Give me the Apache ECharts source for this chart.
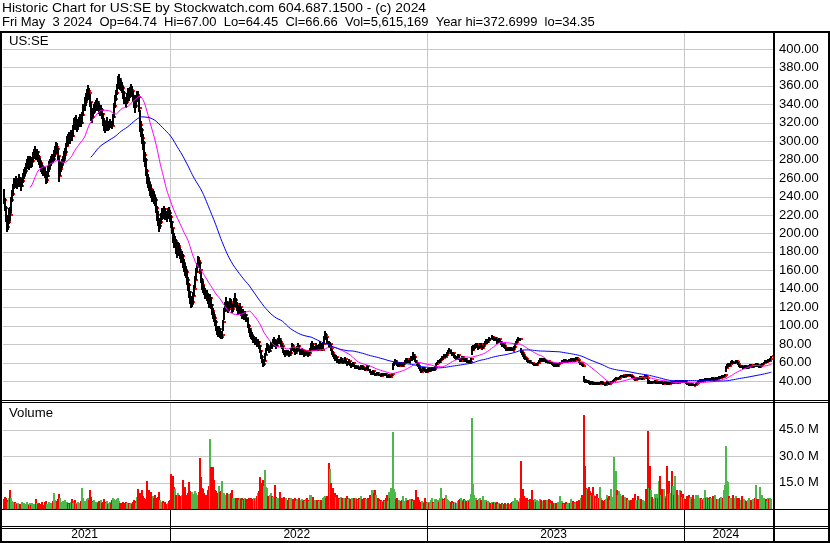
<!DOCTYPE html>
<html><head><meta charset="utf-8">
<script src="https://cdn.jsdelivr.net/npm/echarts@6.0.0/dist/echarts.min.js"></script>
<style>html,body{margin:0;padding:0;background:#fff}#c{width:830px;height:543px}</style>
</head><body><div id="c"></div>
<script>
const titleLine1 = 'Historic Chart for US:SE by Stockwatch.com 604.687.1500 - (c) 2024';
const titleLine2 = 'Fri May  3 2024  Op=64.74  Hi=67.00  Lo=64.45  Cl=66.66  Vol=5,615,169  Year hi=372.6999  lo=34.35';
const symbolLabel = 'US:SE';
const volumeLabel = 'Volume';
const yearLabels = ['2021', '2022', '2023', '2024'];
const yearCounts = [163, 251, 250, 86];
const priceTicks = [40,60,80,100,120,140,160,180,200,220,240,260,280,300,320,340,360,380,400];
const volumeTicks = [15, 30, 45];
const maPeriods = [27, 86];

const closes = [236,228,216,207,212,222,220,236,243,250,
255,254,258,252,256,260,254,251,257,262,
266,268,272,276,279,275,280,277,279,284,
288,290,286,288,283,279,276,273,270,268,
266,258,262,270,275,276,280,282,281,286,
290,294,292,284,262,270,274,277,280,285,
288,295,302,300,305,303,308,306,314,320,
318,322,316,318,322,326,320,328,336,342,
348,352,355,352,342,330,326,332,336,338,
340,342,338,336,332,334,330,322,316,314,
318,320,316,318,320,318,317,326,338,346,
352,358,366,368,362,360,358,352,346,342,
348,352,350,354,356,354,348,342,338,346,
350,348,336,318,312,304,298,285,280,268,
260,256,252,248,244,240,242,238,236,228,
220,214,208,212,218,224,222,226,220,218,
224,222,218,212,206,196,190,192,184,180,
186,182,178,174,176,168,164,160,158,150,
144,136,130,124,126,132,140,150,158,164,
170,168,160,150,144,140,138,135,132,128,
124,130,122,116,112,108,104,98,94,92,
96,90,88,90,104,116,122,126,120,118,
122,126,124,118,120,126,128,124,120,116,
118,120,114,112,114,110,112,108,100,96,
92,90,88,84,86,82,84,80,82,78,
72,66,62,58,62,68,74,78,76,72,
76,80,78,82,84,80,78,82,84,86,
82,80,78,72,70,68,72,70,68,70,
74,78,76,74,70,72,76,78,74,70,
72,74,70,68,70,72,70,68,70,74,
78,80,76,74,76,78,76,74,78,80,
76,74,80,86,90,88,82,78,80,76,
70,68,66,64,66,62,61,60,62,64,
62,60,62,64,60,58,60,62,58,56,
58,60,56,55,56,54,55,53,54,56,
55,54,53,52,54,56,52,50,48,49,
51,48,46,47,49,48,46,47,45,48,
47,46,48,46,44,45,47,44,46,48,
58,60,62,60,58,56,58,60,58,56,
58,60,62,64,62,60,64,66,64,68,
66,62,60,58,56,54,52,50,52,54,
52,51,50,52,53,51,52,53,54,52,
53,55,58,60,62,61,63,64,66,65,
68,66,68,70,72,74,70,68,70,66,
66,64,66,68,64,62,64,66,64,62,
64,62,60,62,60,61,64,74,76,77,
78,80,78,76,78,80,78,76,78,80,
82,84,82,84,86,85,88,86,85,87,
84,82,84,86,82,80,78,80,78,76,
74,76,75,74,76,74,73,75,77,80,
82,84,86,85,86,72,70,68,66,65,
64,62,60,62,60,59,58,57,58,57,
59,60,62,64,63,62,64,63,62,60,
61,62,60,59,60,58,57,56,58,57,
56,58,59,60,60.5,62,61,63,62,61,
62,62.5,63,62,64,63,62,64,65,64,
63,60,58,59,57,56,41,40,39,40,
39,38,37,39,38,37,38,37,38,37,
38,37,38,39,38,37,36.5,36,38,39,
38,37,38,39,40,41.5,42,43,42,42.5,
43,44,45,46,45,44,46,47,45,46,
47,46,45,44,43,42,41,42,43,42,
43,44,43,42,43,44,45,44,43,38,
39,38,39,38,39,40,38,39,38,39,
38,39,38,37,38,39,38,37,38,37,
38,39,38,39,38,39,40,39,38,39,
40,39,40,39,40,39,38,37,36.5,36,
36.5,37,36,35,36,37,38,39,40,41,
40,41,40,41,42,41,42,41,42,41,
42,43,42,41,42,43,42,43,44,43,
44,45,44,45,47,54,56,57,56,58,
60,61,59,60,62,61,58,56,55,56,
55,54,55,56,55,54,55,56,57,56,
55,56,57,56,58,57,56,55,56,57,
58,59,60,62,61,62,63,62,64,66.66];

const highs = [248,238,230,218,220,228,229,240,247,254,
260,259,262,259,260,264,261,256,260,266,
270,272,276,281,284,280,284,282,283,288,
292,295,292,292,289,285,282,279,276,273,
272,268,266,273,279,281,284,286,286,290,
295,299,298,293,284,274,278,281,284,289,
293,298,306,308,310,309,312,312,318,325,
326,328,324,322,326,330,328,332,340,348,
352,357,361,358,351,342,333,336,340,343,
345,347,344,341,338,339,336,331,325,320,
322,326,322,322,324,322,321,330,341,350,
356,362,371,372.7,369,366,364,360,354,348,
352,358,356,359,362,360,355,350,344,350,
355,354,348,334,322,314,308,300,288,282,
270,264,260,256,252,247,248,246,242,238,
230,224,217,216,222,228,228,230,228,224,
228,229,225,220,214,206,200,197,194,188,
191,190,185,181,181,178,172,168,165,160,
153,146,138,132,131,136,144,154,162,168,
175,174,170,160,152,148,144,141,139,135,
130,134,131,124,119,115,111,106,100,98,
100,98,93,94,106,119,126,131,127,122,
126,130,129,125,123,130,135,130,126,122,
122,125,120,116,118,115,116,113,108,102,
98,95,93,90,89,88,88,85,85,83,
79,74,68,63,64,70,76,81,80,77,
78,82,82,85,88,85,81,84,87,90,
87,84,81,78,74,71,74,74,71,72,
76,81,80,77,75,74,78,81,79,75,
74,76,75,71,72,74,73,71,72,76,
81,83,81,77,78,81,79,77,80,83,
81,77,82,89,94,92,88,83,82,80,
75,72,69,67,68,66,64,63,64,66,
65,63,63,66,64,61,62,64,62,59,
59,61,60,57,57,56,56,55,55,57,
57,56,55,54,55,57,56,53,51,50,
52,51,49,48,50,50,48,48,47,49,
49,48,49,49,46,46,48,47,47,49,
59,61,64,63,61,59,59,61,61,59,
59,61,63,65,65,63,65,67,67,71,
69,67,63,61,59,57,55,53,53,55,
55,53,52,53,54,54,53,54,55,55,
54,56,59,61,63,63,64,65,67,67,
69,69,69,71,74,76,74,71,71,70,
68,67,67,69,68,65,65,67,67,65,
65,65,63,63,63,62,65,78,79,79,
80,81,81,79,79,81,81,79,79,81,
83,86,85,85,88,87,90,89,87,88,
88,85,85,87,86,83,81,81,80,79,
77,77,77,76,77,77,75,76,78,81,
83,85,88,87,87,76,73,71,69,67,
66,65,63,63,63,61,60,59,59,59,
60,61,63,65,65,64,65,65,64,63,
62,63,63,61,61,61,59,58,59,59,
58,59,60,61,61,63,63,64,64,63,
63,63,64,64,65,65,64,65,66,66,
64,63,61,60,60,58,45,42,41,41,
41,40,39,40,40,39,39,39,39,39,
39,39,39,40,40,39,38,38,39,40,
40,39,39,40,41,42.5,43,44,43,43.5,
44,45,46,47,47,46,47,48,48,47,
48,48,47,46,45,44,43,43,44,44,
44,45,45,44,44,45,46,46,45,42,
41,40,40,40,40,41,40,40,40,40,
40,40,40,39,39,40,40,39,39,39,
39,40,40,40,40,40,41,41,40,40,
41,41,41,41,41,40,40,38,38,38,
37,38,38,37,37,38,39,40,41,42,
42,42,42,42,43,43,43,43,43,43,
43,44,44,43,43,44,44,44,45,45,
45,46,45,46,48,56,58,59,58,60,
62,63,62,61,63,63,61,58,57,57,
57,56,56,57,57,56,56,57,58,58,
57,57,58,58,59,59,58,57,57,58,
59,60,61,63,63,63,64,64,65,67];

const lows = [232,224,212,202,204,210,214,222,234,241,
248,249,252,248,250,253,250,246,250,255,
259,262,266,270,272,269,273,271,272,277,
281,284,280,282,278,274,271,267,265,262,
260,254,255,261,267,270,273,276,276,279,
283,287,286,280,256,262,267,271,274,278,
281,286,294,295,298,297,301,300,305,312,
312,315,310,312,315,319,315,319,327,333,
338,344,348,345,337,322,320,324,330,332,
333,336,333,330,327,328,324,317,311,309,
311,313,311,312,314,314,313,317,325,336,
344,350,357,361,356,354,352,346,340,336,
340,345,344,347,350,348,342,336,331,336,
342,342,332,310,305,297,290,278,272,262,
254,249,246,241,238,234,235,232,230,222,
214,208,202,205,210,215,216,219,215,212,
216,216,212,206,199,190,184,185,178,173,
178,176,172,168,169,163,158,154,152,144,
138,130,124,119,120,124,132,141,150,157,
163,162,156,146,139,135,133,129,127,123,
119,122,118,112,107,104,100,94,90,88,
90,87,85,86,94,106,115,120,116,114,
116,120,119,114,115,120,123,120,116,112,
113,115,110,107,109,106,107,104,97,92,
88,86,84,81,82,79,80,77,78,75,
70,64,59,55,56,62,68,73,72,70,
71,75,75,78,80,77,75,78,80,82,
80,77,75,70,68,66,68,68,66,67,
69,73,74,71,68,69,71,75,72,68,
68,70,68,66,67,69,68,66,67,70,
74,77,74,72,73,75,74,72,74,77,
74,72,75,80,85,84,80,76,77,73,
68,66,64,62,63,60,60,58,59,61,
60,58,59,61,58,56,57,59,56,54,
55,57,55,53,54,53,53,52,52,53,
53,52,52,51,52,53,51,49,47,47,
48,47,45,45,46,46,45,45,44,45,
46,45,45,45,43,43,44,43,44,45,
52,56,59,58,56,55,55,57,56,55,
55,57,59,61,60,59,60,63,62,63,
64,61,59,57,55,53,51,49,50,51,
51,50,49,49,51,50,50,51,52,51,
51,52,55,57,59,59,60,62,63,63,
65,65,66,67,69,71,69,67,67,65,
64,63,63,65,63,61,61,63,63,61,
61,61,59,59,59,59,61,68,73,74,
75,77,76,74,75,77,76,74,75,77,
79,81,80,81,83,83,85,84,83,84,
83,80,81,83,81,79,77,77,76,75,
73,73,73,72,73,73,72,72,74,76,
79,81,83,83,83,70,68,66,64,63,
63,61,59,59,59,58,57,56,56,56,
56,58,59,61,62,61,61,62,61,59,
59,60,59,58,58,57,56,55,55,56,
55,55,57,58,59.5,59,60,60,61,60,
60,61,61,61,61,62,61,61,63,63,
62,59,57,57,56,55,39,38,38,38,
38,37,36,37,37,36,37,36,37,36,
37,36,37,38,37,36,36,35,36,38,
37,36,37,38,39,39.5,41,41.5,41,41.5,
42,43,44,45,44,43,44,45,44,45,
46,45,44,43,42,41,40,41,42,41,
42,43,42,41,42,43,44,43,42,37,
37,37,38,37,38,39,37,38,37,38,
37,38,37,36,37,38,37,36,37,36,
37,38,37,38,37,38,39,38,37,38,
39,38,39,38,39,38,37,36,36,35,
35,35,35,34.35,35,36,37,38,39,40,
39,40,39,40,41,40,41,40,41,40,
41,42,41,40,41,42,41,42,43,42,
43,44,43,44,45,50,54,55,55,56,
58,59,58,58,59,59,57,55,54,54,
54,53,53,54,54,53,53,54,55,55,
54,54,55,55,55,56,55,54,54,55,
56,57,58,59,60,60,61,61,62,64.45];

const volumesM = [5.5,7.0,6.0,5.2,4.0,6.5,10.6,6.0,4.5,4.0,
3.5,4.0,3.2,2.8,3.5,2.5,3.0,2.4,3.8,2.6,
3.5,2.8,3.0,4.2,2.6,2.4,3.6,2.0,3.2,2.7,
2.5,3.0,5.7,3.5,2.8,3.2,2.6,3.0,4.0,2.5,
3.8,4.5,3.0,2.6,4.0,3.2,2.8,3.5,4.8,9.0,
5.2,3.6,4.5,5.5,8.7,6.0,4.0,3.5,4.8,3.0,
5.0,3.2,4.0,3.6,2.8,3.5,4.2,5.7,3.6,4.5,
5.2,3.4,3.0,4.0,3.5,3.0,4.8,12.0,6.0,4.5,
4.0,5.5,6.2,5.0,10.6,7.0,4.5,3.8,5.0,4.2,
3.5,4.0,3.2,4.4,3.0,5.0,3.6,4.2,5.5,4.0,
3.5,4.8,3.0,3.6,4.0,3.2,5.0,6.4,5.5,4.5,
5.0,5.8,6.0,4.8,3.5,3.0,3.6,4.0,3.4,3.8,
3.2,3.0,3.6,2.8,3.4,3.0,4.2,5.0,4.5,3.6,
7.0,11.3,8.5,9.0,6.0,10.6,7.5,6.5,5.5,5.0,
16.0,8.0,11.0,6.0,9.5,5.5,7.5,6.0,8.0,6.5,
5.5,7.0,9.6,5.0,4.0,3.5,4.5,3.6,4.2,3.0,
3.5,4.5,5.0,20.0,8.0,18.5,12.5,11.5,8.0,7.0,
9.0,8.0,6.5,7.5,8.0,16.6,9.0,12.5,8.0,7.5,
9.0,15.5,10.0,8.0,9.5,7.5,8.5,10.0,9.0,7.0,
8.0,9.5,28.9,18.1,12.0,11.3,9.0,8.0,8.0,10.5,
13.2,39.6,23.6,14.0,23.6,16.2,11.0,10.0,9.0,8.0,
12.8,9.5,10.0,16.0,8.5,9.0,7.5,8.0,9.0,7.0,
8.5,7.0,9.0,10.6,6.0,6.5,5.5,6.0,5.5,6.2,
5.0,6.0,5.5,6.5,5.0,5.8,6.0,5.7,5.5,6.5,
5.7,6.0,5.2,5.7,6.5,5.5,6.0,7.5,9.0,10.0,
18.1,14.7,12.0,16.6,13.0,22.3,12.5,11.9,7.2,6.0,
8.0,9.1,7.5,7.0,6.5,13.8,7.0,6.5,5.5,6.0,
9.8,6.5,5.5,6.5,7.0,5.5,6.5,5.0,6.0,5.5,
6.0,5.0,5.5,5.0,6.2,4.8,5.5,5.0,6.0,4.5,
5.0,5.5,4.6,5.0,4.4,5.5,6.0,5.0,4.5,8.1,
8.1,6.5,7.0,4.8,5.0,4.4,5.3,5.0,4.6,5.0,
5.3,4.8,6.0,7.0,7.6,6.5,7.6,26.0,22.8,14.7,
10.0,11.9,8.5,9.1,7.0,8.1,6.5,6.0,5.5,7.0,
6.0,5.5,6.5,5.0,6.0,7.6,5.5,6.0,5.5,5.0,
6.5,5.5,6.0,5.0,6.0,5.5,5.0,6.0,5.5,7.6,
5.5,5.0,6.0,6.5,5.5,5.0,6.0,8.1,5.5,10.6,
10.6,9.0,10.6,8.1,6.0,6.5,5.5,4.5,5.0,4.5,
4.0,5.0,4.5,6.0,8.1,4.5,9.8,6.0,11.9,8.0,
43.8,11.3,9.8,5.7,6.5,4.5,5.0,4.0,4.5,5.0,
7.2,4.0,4.5,6.0,4.5,5.0,5.7,5.0,5.5,4.5,
5.0,4.0,11.0,6.0,7.0,5.0,4.0,3.5,4.5,4.0,
3.5,6.5,4.0,3.5,4.0,3.6,4.2,5.0,6.5,4.0,
3.5,5.5,5.5,4.5,5.0,4.0,6.0,11.9,6.0,5.5,
5.0,6.0,8.1,5.5,5.0,4.5,4.0,4.5,3.6,3.8,
4.0,3.5,3.6,4.5,5.0,5.5,6.0,5.0,4.5,5.5,
5.0,4.5,4.0,5.0,4.5,5.5,8.6,51.5,14.3,8.0,
5.5,6.0,5.0,4.5,5.5,6.0,5.0,4.5,7.6,5.0,
4.5,5.0,4.0,4.8,4.0,3.5,4.0,3.6,4.2,3.8,
3.5,4.0,3.0,3.6,3.0,2.5,3.2,3.0,2.6,3.4,
3.0,2.8,3.2,2.5,3.0,3.6,4.0,4.5,4.0,6.2,
5.0,5.3,4.5,4.0,6.0,27.4,10.0,11.3,7.2,6.2,
5.5,6.0,5.0,4.5,5.5,10.6,5.0,4.5,5.5,4.0,
5.0,4.0,4.5,5.5,5.0,4.0,4.5,5.0,5.3,4.5,
5.0,4.5,5.5,5.0,3.5,4.5,3.5,3.0,3.5,3.2,
3.0,4.0,3.8,7.2,4.0,4.5,3.5,3.0,3.6,4.0,
3.0,3.5,3.2,3.5,5.5,4.5,4.0,3.5,3.8,4.5,
4.0,5.0,4.0,6.0,8.1,5.0,53.4,24.2,11.9,11.3,
11.3,12.5,10.0,8.0,9.0,12.5,8.0,7.6,6.0,8.7,
6.5,6.0,12.5,6.0,5.0,4.8,4.5,5.0,5.5,8.1,
6.0,7.2,5.0,11.3,7.0,29.4,12.0,21.7,11.0,8.0,
10.0,8.7,7.0,7.6,8.0,6.0,7.0,5.5,6.5,5.3,
5.0,4.4,5.0,4.5,6.0,5.5,8.7,5.0,4.5,7.2,
5.0,5.5,5.7,5.0,5.3,4.5,4.4,11.3,6.0,44.4,
12.0,24.2,11.0,7.0,5.7,8.4,6.0,8.4,6.0,15.7,
18.9,8.0,11.3,7.0,11.5,7.2,6.0,24.2,8.7,15.7,
9.0,7.0,21.3,13.2,8.0,18.9,9.0,11.0,5.7,8.0,
11.0,10.0,7.0,8.7,6.0,5.7,5.7,7.2,6.0,8.1,
6.0,7.0,5.5,8.1,5.5,8.1,7.0,8.1,6.0,5.5,
6.0,5.7,5.0,6.5,10.6,6.0,7.0,6.0,5.5,7.0,
6.0,5.5,7.2,5.5,8.1,5.0,5.5,5.7,5.0,6.0,
6.6,5.5,6.0,11.0,13.8,35.5,16.0,15.3,7.2,6.0,
5.3,6.0,8.1,6.0,7.6,6.5,5.0,6.0,4.4,5.0,
7.2,5.0,5.7,5.3,4.5,4.4,5.0,6.0,5.3,5.0,
4.5,5.7,5.0,6.0,13.8,5.5,5.0,5.5,12.5,6.0,
8.1,5.0,6.0,5.7,5.5,4.5,6.2,5.6,6.2,5.6];

// ---- derived structures ----
const N = closes.length;
const yearStarts = [];
{ let acc = 0; yearCounts.forEach(c => { yearStarts.push(acc); acc += c; }); }
const boundaries = yearStarts.slice(1).map(s => [s - 0.5, 0]);

function sma(p) {
  const out = []; let s = 0;
  for (let i = 0; i < N; i++) {
    s += closes[i]; if (i >= p) s -= closes[i - p];
    if (i >= p - 1) out.push([i, s / p]);
  }
  return out;
}
const barData = closes.map((c, i) => [i, highs[i], lows[i], c]);
const volData = volumesM.map((v, i) => [i, v, i === 0 ? -1 : (closes[i] > closes[i - 1] ? 1 : (closes[i] < closes[i - 1] ? -1 : 0))]);
const volColors = { '1': '#4cb84c', '-1': '#ff0000', '0': '#a0a0a0' };

const FF = '"Liberation Sans", Arial, sans-serif';
const FONT = '12px ' + FF;
const HFONT = '13.2px ' + FF;
const GRID_GRAY = '#c8c8c8';

function hLineRender(params, api) {
  const cs = params.coordSys;
  const y = Math.round(api.coord([0, api.value(1)])[1]) + 0.5;
  return { type: 'line', shape: { x1: cs.x, y1: y, x2: cs.x + cs.width, y2: y }, style: { stroke: GRID_GRAY, lineWidth: 1 } };
}
function vLineRender(color) {
  return function (params, api) {
    const cs = params.coordSys;
    const x = Math.round(api.coord([api.value(0), 0])[0]) + 0.5;
    return { type: 'line', shape: { x1: x, y1: cs.y, x2: x, y2: cs.y + cs.height }, style: { stroke: color, lineWidth: 1 } };
  };
}

const xAxisBase = { type: 'value', min: -0.5, max: N + 2.5, show: false };

const option = {
  animation: false,
  backgroundColor: '#fff',
  grid: [
    { left: 3, width: 772, top: 30.56, height: 368.88, outerBoundsMode: 'none' },
    { left: 3, width: 772, top: 403, height: 106, outerBoundsMode: 'none' },
    { left: 3, width: 772, top: 510, height: 31, outerBoundsMode: 'none' }
  ],
  xAxis: [
    Object.assign({ gridIndex: 0 }, xAxisBase),
    Object.assign({ gridIndex: 1 }, xAxisBase),
    Object.assign({ gridIndex: 2 }, xAxisBase)
  ],
  yAxis: [
    { gridIndex: 0, type: 'value', min: 20, max: 420, interval: 20, position: 'right',
      axisLine: { show: false }, axisTick: { show: false }, splitLine: { show: false },
      axisLabel: { margin: 4, color: '#000', fontFamily: FF, fontSize: 13,
        formatter: v => (v < 40 || v > 400) ? '' : v.toFixed(2) } },
    { gridIndex: 1, type: 'value', min: 0, max: 60, interval: 15, position: 'right',
      axisLine: { show: false }, axisTick: { show: false }, splitLine: { show: false },
      axisLabel: { margin: 4, color: '#000', fontFamily: FF, fontSize: 13,
        formatter: v => (v <= 0 || v >= 60) ? '' : v.toFixed(1) + ' M' } },
    { gridIndex: 2, type: 'value', min: 0, max: 1, show: false }
  ],
  series: [
    { type: 'custom', xAxisIndex: 0, yAxisIndex: 0, z: 1, silent: true,
      data: priceTicks.map(v => [0, v]), encode: { x: 0, y: 1 }, renderItem: hLineRender },
    { type: 'custom', xAxisIndex: 0, yAxisIndex: 0, z: 1, silent: true,
      data: boundaries, encode: { x: 0, y: 1 }, renderItem: vLineRender(GRID_GRAY) },
    { type: 'custom', xAxisIndex: 0, yAxisIndex: 0, z: 2, silent: true,
      data: barData, encode: { x: 0, y: [1, 2] },
      renderItem(params, api) {
        const i = api.value(0);
        const hi = api.coord([i, api.value(1)]);
        const lo = api.coord([i, api.value(2)]);
        const cl = api.coord([i, api.value(3)]);
        const x = Math.round(hi[0]);
        const yt = Math.round(hi[1]), yb = Math.round(lo[1]);
        return { type: 'group', children: [
          { type: 'rect', shape: { x: x - 1, y: yt, width: 2, height: Math.max(1, yb - yt) }, style: { fill: '#000' } },
          { type: 'rect', shape: { x: x + 1, y: Math.round(cl[1]) - 1, width: 2, height: 2 }, style: { fill: '#ff0000' } }
        ] };
      } },
    { type: 'line', xAxisIndex: 0, yAxisIndex: 0, z: 3, silent: true, showSymbol: false, symbol: 'none',
      data: sma(maPeriods[0]), lineStyle: { color: '#ff00ff', width: 1 } },
    { type: 'line', xAxisIndex: 0, yAxisIndex: 0, z: 3, silent: true, showSymbol: false, symbol: 'none',
      data: sma(maPeriods[1]), lineStyle: { color: '#0000ff', width: 1 } },
    { type: 'custom', xAxisIndex: 1, yAxisIndex: 1, z: 1, silent: true,
      data: volumeTicks.map(v => [0, v]), encode: { x: 0, y: 1 }, renderItem: hLineRender },
    { type: 'custom', xAxisIndex: 1, yAxisIndex: 1, z: 1, silent: true,
      data: boundaries, encode: { x: 0, y: 1 }, renderItem: vLineRender(GRID_GRAY) },
    { type: 'custom', xAxisIndex: 1, yAxisIndex: 1, z: 2, silent: true,
      data: volData, encode: { x: 0, y: 1 },
      renderItem(params, api) {
        const i = api.value(0);
        const top = api.coord([i, api.value(1)]);
        const base = api.coord([i, 0]);
        const x = Math.round(top[0]);
        const yt = Math.round(top[1]), yb = Math.round(base[1]);
        return { type: 'rect', shape: { x: x - 1, y: yt, width: 2, height: Math.max(1, yb - yt) },
          style: { fill: volColors[String(api.value(2))] } };
      } },
    { type: 'custom', xAxisIndex: 2, yAxisIndex: 2, z: 2, silent: true,
      data: yearLabels.map((t, j) => [yearStarts[j] - 0.5, yearStarts[j] + yearCounts[j] - 0.5, j]),
      encode: { x: [0, 1] },
      renderItem(params, api) {
        const cs = params.coordSys;
        const s = api.value(0), e = api.value(1), j = api.value(2);
        const xs = api.coord([s, 0])[0], xe = api.coord([e, 0])[0];
        const children = [{ type: 'text', style: { text: yearLabels[j], x: (xs + xe) / 2 - 2, y: cs.y + 24.5,
          align: 'center', verticalAlign: 'middle', textAlign: 'center', textVerticalAlign: 'middle', font: FONT, fill: '#000' } }];
        if (j > 0) {
          const x = Math.round(xs) + 0.5;
          children.push({ type: 'line', shape: { x1: x, y1: cs.y, x2: x, y2: cs.y + cs.height }, style: { stroke: '#000', lineWidth: 1 } });
        }
        return { type: 'group', children };
      } }
  ],
  graphic: [
    { type: 'text', x: 2, y: 8.5, scaleX: 1.05, z: 100, style: { text: titleLine1, font: HFONT, fill: '#000', verticalAlign: 'middle', textVerticalAlign: 'middle' } },
    { type: 'text', x: 2, y: 22.5, scaleX: 0.985, z: 100, style: { text: titleLine2, font: HFONT, fill: '#000', verticalAlign: 'middle', textVerticalAlign: 'middle' } },
    { type: 'text', x: 9, y: 41.5, z: 100, style: { text: symbolLabel, font: HFONT, fill: '#000', verticalAlign: 'middle', textVerticalAlign: 'middle' } },
    { type: 'text', x: 9, y: 413, z: 100, style: { text: volumeLabel, font: HFONT, fill: '#000', verticalAlign: 'middle', textVerticalAlign: 'middle' } },
    // frame
    { type: 'rect', z: 100, shape: { x: 0, y: 31, width: 830, height: 2 }, style: { fill: '#000' } },
    { type: 'rect', z: 100, shape: { x: 0, y: 31, width: 2, height: 512 }, style: { fill: '#000' } },
    { type: 'rect', z: 100, shape: { x: 828, y: 31, width: 2, height: 512 }, style: { fill: '#000' } },
    { type: 'rect', z: 100, shape: { x: 773, y: 31, width: 2, height: 512 }, style: { fill: '#000' } },
    { type: 'rect', z: 100, shape: { x: 0, y: 400, width: 830, height: 1 }, style: { fill: '#000' } },
    { type: 'rect', z: 100, shape: { x: 0, y: 402, width: 830, height: 1 }, style: { fill: '#000' } },
    { type: 'rect', z: 100, shape: { x: 0, y: 509, width: 830, height: 1 }, style: { fill: '#000' } },
    { type: 'rect', z: 100, shape: { x: 0, y: 526, width: 830, height: 1 }, style: { fill: '#000' } },
    { type: 'rect', z: 100, shape: { x: 0, y: 528, width: 830, height: 1 }, style: { fill: '#000' } },
    { type: 'rect', z: 100, shape: { x: 0, y: 541, width: 830, height: 2 }, style: { fill: '#000' } }
  ]
};

const chart = echarts.init(document.getElementById('c'), null, { renderer: 'canvas' });
chart.setOption(option);
</script>
</body></html>
